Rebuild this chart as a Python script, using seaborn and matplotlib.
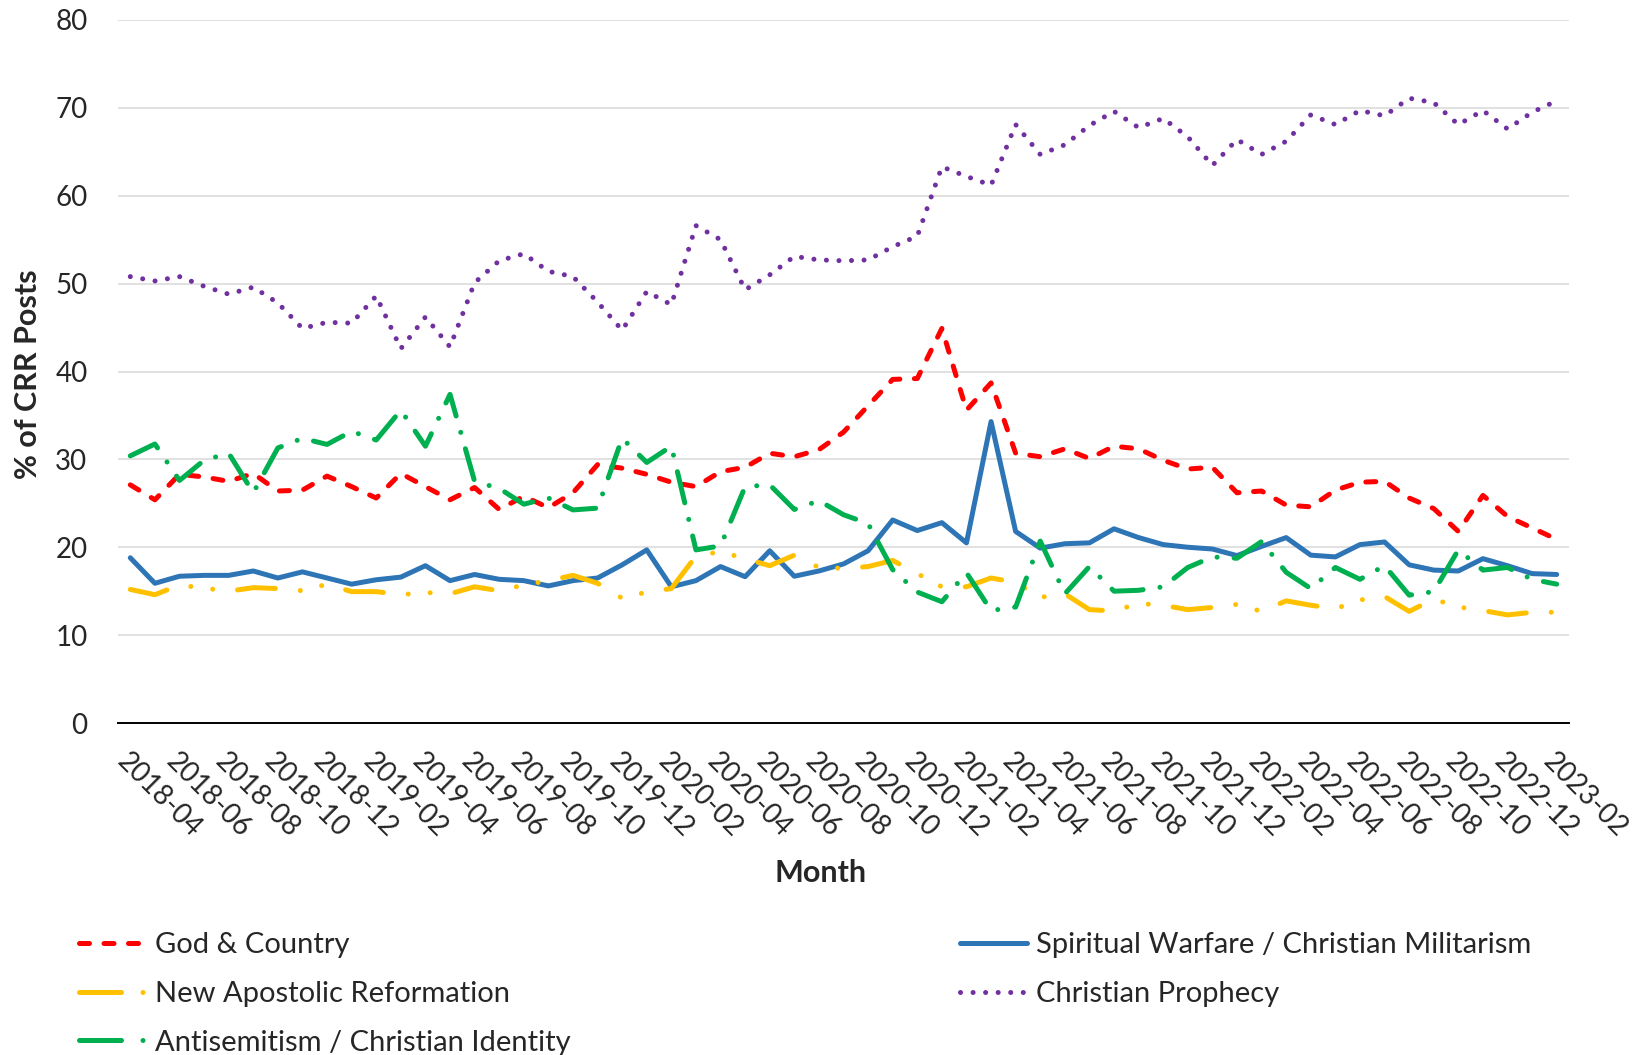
import numpy as np
import pandas as pd
import seaborn as sns
import matplotlib.pyplot as plt
from matplotlib.lines import Line2D

# monthly share of CRR posts per narrative, 2018-04 .. 2023-02
months = pd.date_range('2018-04-01', periods=59, freq='MS').strftime('%Y-%m').tolist()

god_country = [27.1, 25.4, 28.3, 28.0, 27.5, 28.4, 26.4, 26.5, 28.1, 26.9,
               25.6, 28.4, 26.9, 25.4, 26.8, 24.3, 25.8, 24.5, 26.2, 29.4,
               29.0, 28.3, 27.4, 26.9, 28.6, 29.1, 30.7, 30.3, 31.1, 33.1,
               36.1, 39.1, 39.2, 44.9, 35.6, 38.7, 30.7, 30.3, 31.2, 30.1,
               31.5, 31.2, 29.9, 28.9, 29.1, 26.2, 26.4, 24.8, 24.6, 26.5,
               27.4, 27.5, 25.6, 24.4, 21.8, 25.9, 23.5, 22.2, 20.9]

spiritual_warfare = [18.8, 15.9, 16.7, 16.8, 16.8, 17.3, 16.5, 17.2, 16.5, 15.8,
                     16.3, 16.6, 17.9, 16.2, 16.9, 16.35, 16.2, 15.6, 16.2, 16.5,
                     18.0, 19.7, 15.5, 16.2, 17.8, 16.65, 19.6, 16.7, 17.3, 18.1,
                     19.6, 23.1, 21.9, 22.8, 20.5, 34.3, 21.8, 19.9, 20.4, 20.5,
                     22.1, 21.1, 20.3, 20.0, 19.8, 19.05, 20.1, 21.1, 19.1, 18.9,
                     20.3, 20.6, 18.0, 17.4, 17.3, 18.7, 17.9, 17.0, 16.9]

new_apostolic = [15.2, 14.6, 15.7, 15.35, 15.0, 15.4, 15.3, 15.05, 15.8, 14.95,
                 14.95, 14.6, 14.85, 14.7, 15.5, 15.05, 15.7, 16.2, 16.8, 15.9,
                 14.2, 14.9, 15.3, 19.0, 19.5, 18.7, 17.9, 19.1, 17.7, 17.6,
                 17.8, 18.5, 17.0, 15.5, 15.5, 16.5, 16.0, 14.3, 14.7, 12.9,
                 12.75, 13.6, 13.4, 12.9, 13.15, 13.5, 12.7, 13.9, 13.4, 13.0,
                 14.0, 14.4, 12.7, 14.1, 13.2, 12.8, 12.3, 12.6, 12.6]

prophecy = [50.8, 50.3, 50.8, 49.7, 48.8, 49.6, 47.8, 44.9, 45.6, 45.5,
            48.6, 42.6, 46.2, 42.8, 50.1, 52.6, 53.4, 51.4, 50.8, 47.9,
            44.7, 49.1, 47.6, 56.6, 55.0, 49.3, 51.0, 53.1, 52.7, 52.6,
            52.7, 54.2, 55.4, 63.3, 62.2, 61.2, 68.1, 64.7, 65.8, 68.0,
            69.6, 67.75, 68.8, 66.7, 63.45, 66.4, 64.7, 66.2, 69.2, 68.1,
            69.7, 69.1, 71.1, 70.6, 68.1, 69.7, 67.6, 69.5, 70.8]

antisemitism = [30.4, 31.75, 27.6, 29.9, 30.7, 26.2, 31.3, 32.4, 31.7, 33.2,
                32.2, 35.6, 31.5, 37.4, 27.5, 26.7, 24.9, 25.6, 24.25, 24.45,
                32.4, 29.65, 31.5, 19.7, 20.15, 26.9, 27.1, 24.3, 25.3, 23.7,
                22.7, 17.45, 14.9, 13.8, 17.1, 12.8, 13.2, 20.7, 14.7, 17.8,
                15.0, 15.1, 15.5, 17.7, 18.9, 18.75, 20.65, 17.15, 15.3, 17.7,
                16.35, 17.9, 14.55, 14.95, 19.7, 17.4, 17.7, 16.35, 15.8]

# drawing order (later on top)
series = {
    'God & Country': god_country,
    'Spiritual Warfare / Christian Militarism': spiritual_warfare,
    'New Apostolic Reformation': new_apostolic,
    'Christian Prophecy': prophecy,
    'Antisemitism / Christian Identity': antisemitism,
}
palette = {
    'God & Country': '#FF0000',
    'Spiritual Warfare / Christian Militarism': '#2E75B6',
    'New Apostolic Reformation': '#FFC000',
    'Christian Prophecy': '#7030A0',
    'Antisemitism / Christian Identity': '#00B050',
}
dashes = {
    'God & Country': (2.0, 2.9),
    'Spiritual Warfare / Christian Militarism': '',
    'New Apostolic Reformation': (7.6, 5.0, 0.01, 4.4, 0.01, 5.0),
    'Christian Prophecy': (0.01, 2.5),
    'Antisemitism / Christian Identity': (6.4, 3.4, 0.01, 3.4),
}
# legend samples: long dash then a single dot, as in the original
legend_dashes = {
    'God & Country': (2.0, 2.9),
    'Spiritual Warfare / Christian Militarism': None,
    'New Apostolic Reformation': (8.4, 4.3, 0.01, 10),
    'Christian Prophecy': (0.01, 2.5),
    'Antisemitism / Christian Identity': (8.4, 4.3, 0.01, 10),
}
legend_order = ['God & Country', 'New Apostolic Reformation',
                'Antisemitism / Christian Identity',
                'Spiritual Warfare / Christian Militarism', 'Christian Prophecy']
lw = 3.6

idx = np.arange(len(months))
df = pd.concat([pd.DataFrame({'idx': idx, 'value': v, 'series': k})
                for k, v in series.items()], ignore_index=True)

sns.set_style('white')
plt.rcParams['font.family'] = ['Lato', 'DejaVu Sans']
plt.rcParams['lines.dash_capstyle'] = 'round'
plt.rcParams['lines.solid_capstyle'] = 'round'
plt.rcParams['lines.dash_joinstyle'] = 'round'
plt.rcParams['lines.solid_joinstyle'] = 'round'

fig = plt.figure(figsize=(16.51, 10.55), dpi=100)
ax = fig.add_axes([118 / 1651, 1 - 723 / 1055, 1451 / 1651, 703 / 1055])

sns.lineplot(data=df, x='idx', y='value', hue='series', style='series',
             hue_order=list(series), style_order=list(series),
             palette=palette, dashes=dashes, linewidth=lw,
             legend=False, ax=ax)

ax.set_xlim(-0.5, len(months) - 0.5)
ax.set_ylim(0, 80)
ax.set_yticks(range(0, 81, 10))
ax.yaxis.grid(True, color='#D9D9D9', linewidth=1.1)
ax.set_axisbelow(True)
for s in ['left', 'right', 'top']:
    ax.spines[s].set_visible(False)
ax.spines['bottom'].set_color('black')
ax.spines['bottom'].set_linewidth(1.4)

ax.set_xticks(idx[::2])
ax.set_xticklabels(months[::2], rotation=-45, ha='left', va='top',
                   rotation_mode='anchor')
ax.set_xticks(np.arange(-0.5, len(months)), minor=True)
ax.tick_params(axis='x', which='major', length=0, pad=18, labelsize=20)
ax.tick_params(axis='x', which='minor', direction='inout', length=14,
               width=1.0, color='black')
ax.tick_params(axis='y', length=0, pad=22, labelsize=20)
ax.set_xlabel('')
ax.set_ylabel('')

fig.text(821 / 1651, 1 - 873 / 1055, 'Month', ha='center', va='center',
         fontsize=22, fontweight='bold')
fig.text(28 / 1651, 1 - 374 / 1055, '% of CRR Posts', ha='center', va='center',
         rotation=90, fontsize=22, fontweight='bold')

handles = []
for k in legend_order:
    if legend_dashes[k] is None:
        h = Line2D([], [], color=palette[k], lw=lw, linestyle='-')
    else:
        h = Line2D([], [], color=palette[k], lw=lw,
                   linestyle=(0, legend_dashes[k]))
    handles.append(h)

fig.legend(handles, legend_order, ncol=2,
           loc='upper left', bbox_to_anchor=(79 / 1651, 1 - 932 / 1055),
           frameon=False, fontsize=21, handlelength=2.3, handletextpad=0.3,
           columnspacing=13.35, labelspacing=0.78, borderaxespad=0,
           borderpad=0)

fig.savefig('out.png', dpi=100)
